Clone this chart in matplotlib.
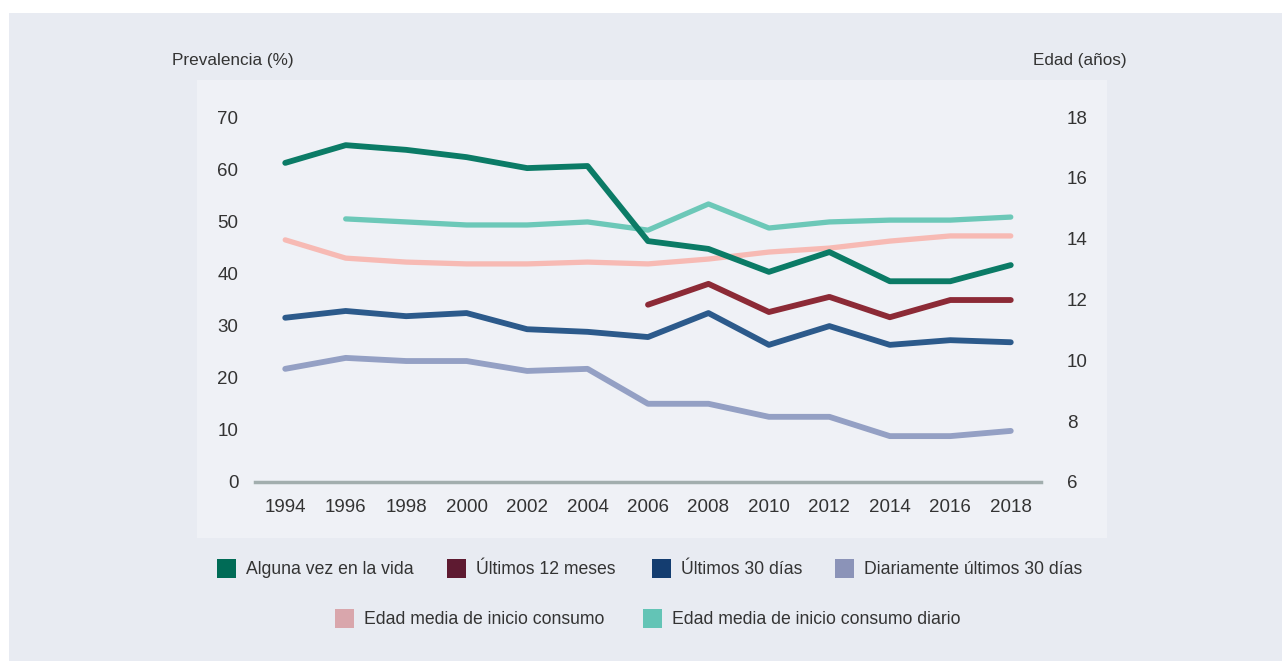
import numpy as np
import matplotlib
matplotlib.use("Agg")
import matplotlib.pyplot as plt
from matplotlib.patches import Rectangle

plt.rcParams['font.family'] = ['Liberation Sans', 'DejaVu Sans']

# ---- datos ----
anios = [1994, 1996, 1998, 2000, 2002, 2004, 2006, 2008, 2010, 2012, 2014, 2016, 2018]

alguna_vez = [61.2, 64.6, 63.7, 62.3, 60.2, 60.6, 46.2, 44.7, 40.3, 44.1, 38.5, 38.5, 41.6]
ult_12m = [None, None, None, None, None, None, 34.0, 38.0, 32.6, 35.5, 31.6, 34.9, 34.9]
ult_30d = [31.5, 32.8, 31.8, 32.4, 29.3, 28.8, 27.8, 32.4, 26.3, 29.9, 26.3, 27.2, 26.8]
diario_30d = [21.7, 23.8, 23.2, 23.2, 21.3, 21.7, 15.0, 15.0, 12.5, 12.5, 8.8, 8.8, 9.8]

edad_inicio = [13.96, 13.36, 13.23, 13.17, 13.17, 13.23, 13.17, 13.33, 13.56, 13.69, 13.92, 14.09, 14.09]
edad_inicio_diario = [None, 14.65, 14.55, 14.45, 14.45, 14.55, 14.28, 15.14, 14.35, 14.55, 14.61, 14.61, 14.71]

etiquetas = ['Alguna vez en la vida', 'Últimos 12 meses', 'Últimos 30 días',
             'Diariamente últimos 30 días', 'Edad media de inicio consumo',
             'Edad media de inicio consumo diario']

col_linea = ['#0b7b66', '#8c2a36', '#2c5a8b', '#94a0c4', '#f7bab4', '#6cc8b8']
col_leyenda = ['#006b56', '#5e1a31', '#143d70', '#8b93b8', '#d9a6ac', '#63c4b6']

W, H = 1282, 661


def fx(px):
    return px / W


def fy(py):
    return 1 - py / H


def serie(vals):
    return np.array([np.nan if v is None else v for v in vals], dtype=float)


fig = plt.figure(figsize=(W / 100, H / 100), dpi=100, facecolor='white')

# fondos
fig.add_artist(Rectangle((fx(9), 0), 1 - fx(9), fy(13), transform=fig.transFigure,
                         facecolor='#e8ebf2', edgecolor='none', zorder=0))
fig.add_artist(Rectangle((fx(197), fy(538)), fx(1107) - fx(197), fy(80) - fy(538),
                         transform=fig.transFigure, facecolor='#eff1f6',
                         edgecolor='none', zorder=0))

ax = fig.add_axes([fx(255), fy(482), fx(1041) - fx(255), fy(117) - fy(482)])
ax.set_facecolor('none')
ax2 = ax.twinx()

x = np.array(anios)
ax.plot(x, serie(alguna_vez), color=col_linea[0], lw=4.2, zorder=5, solid_capstyle='round')
ax.plot(x, serie(ult_12m), color=col_linea[1], lw=4.2, zorder=5, solid_capstyle='round')
ax.plot(x, serie(ult_30d), color=col_linea[2], lw=4.2, zorder=5, solid_capstyle='round')
ax.plot(x, serie(diario_30d), color=col_linea[3], lw=4.2, zorder=5, solid_capstyle='round')
ax2.plot(x, serie(edad_inicio), color=col_linea[4], lw=3.8, zorder=3, solid_capstyle='round')
ax2.plot(x, serie(edad_inicio_diario), color=col_linea[5], lw=3.8, zorder=3, solid_capstyle='round')
ax.set_zorder(ax2.get_zorder() + 1)

ax.set_xlim(1993, 2019)
ax.set_ylim(0, 70)
ax2.set_ylim(6, 18)
ax.set_xticks(anios)
ax.set_yticks(range(0, 71, 10))
ax2.set_yticks(range(6, 19, 2))

for a in (ax, ax2):
    for s in a.spines.values():
        s.set_visible(False)
ax.spines['bottom'].set_visible(True)
ax.spines['bottom'].set_color('#a2aeae')
ax.spines['bottom'].set_linewidth(2.5)

ax.tick_params(axis='y', length=0, pad=12, labelsize=13.5, labelcolor='#333333')
ax.tick_params(axis='x', length=0, pad=12, labelsize=13.5, labelcolor='#333333')
ax2.tick_params(axis='y', length=0, pad=18.5, labelsize=13.5, labelcolor='#333333')

fig.text(fx(172), fy(61), 'Prevalencia (%)', fontsize=12.3, color='#333333',
         ha='left', va='center')
fig.text(fx(1127), fy(61), 'Edad (años)', fontsize=12.3, color='#333333',
         ha='right', va='center')

# leyenda manual
pos_ley = [(217, 569), (447, 569), (652, 569), (835, 569), (335, 619), (643, 619)]
for (px, py), lab, c in zip(pos_ley, etiquetas, col_leyenda):
    fig.add_artist(Rectangle((fx(px), fy(py + 9)), fx(19), 19 / H,
                             transform=fig.transFigure, facecolor=c, edgecolor='none'))
    fig.text(fx(px + 29), fy(py + 1), lab, fontsize=12.7, color='#333333',
             ha='left', va='center')

fig.savefig('out.png', dpi=100, facecolor=fig.get_facecolor())
